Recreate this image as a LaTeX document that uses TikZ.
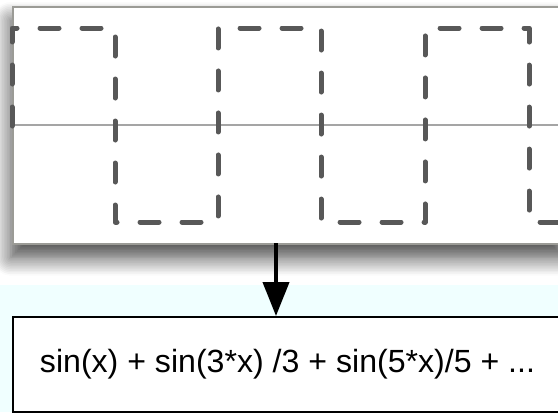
\documentclass[tikz,border=0pt]{standalone}
\usepackage{fontspec}
\setmainfont{Liberation Sans}
\usepackage{tikz}
\usetikzlibrary{arrows.meta, positioning, calc, shadows.blur}
\usepackage{xcolor}

\definecolor{wavegray}{RGB}{88,88,88}
\definecolor{framegray}{RGB}{155,155,150}
\definecolor{linegray}{RGB}{165,165,165}
\definecolor{bandcyan}{RGB}{240,255,255}

\begin{document}
\begin{tikzpicture}[x=0.03cm, y=-0.03cm, % 1 đơn vị = 1 điểm ảnh, trục y hướng xuống
        panel/.style={draw=framegray, line width=0.06cm, fill=white,
            blur shadow={shadow xshift=-0.06cm, shadow yshift=-0.4cm,
                shadow blur radius=0.55cm, shadow blur steps=12, shadow opacity=75}},
        wave/.style={wavegray, line width=0.15cm, line cap=round, line join=round,
            dash pattern=on 0.57cm off 0.69cm},
        midline/.style={linegray, line width=0.06cm},
        flow/.style={-{Triangle[width=0.78cm, length=1.02cm]}, line width=0.12cm},
        formulabox/.style={draw=black, line width=0.06cm, fill=white, inner sep=0pt,
            font=\fontsize{27.4pt}{31pt}\selectfont}]
        \useasboundingbox (0,0) rectangle (558,412);

        % Dải nền xanh nhạt phía dưới
        \fill[bandcyan] (0,285) rectangle (558,412);

        % Khung vẽ tín hiệu (có bóng đổ)
        \node[panel, anchor=north west, minimum width=16.59cm, minimum height=7.11cm,
            inner sep=0pt] (signal) at (12,6) {};

        % Trục giữa
        \draw[midline] (12,125) -- (565,125);

        % Sóng vuông nét đứt
        \draw[wave] (12,126) -- (12,28) -- (115,28) -- (115,222) -- (218,222)
            -- (218,28) -- (321,28) -- (321,222) -- (425,222) -- (425,28)
            -- (529,28) -- (529,222) -- (570,222);

        % Hộp công thức
        \node[formulabox, anchor=north west, minimum width=16.47cm, minimum height=2.85cm]
            (formula) at (12,316) {sin(x) + sin(3*x) /3 + sin(5*x)/5 + ...};

        % Mũi tên xuống
        \coordinate (arrowtop) at (276,243);
        \draw[flow] (arrowtop) -- (arrowtop |- formula.north);
    \end{tikzpicture}
\end{document}
